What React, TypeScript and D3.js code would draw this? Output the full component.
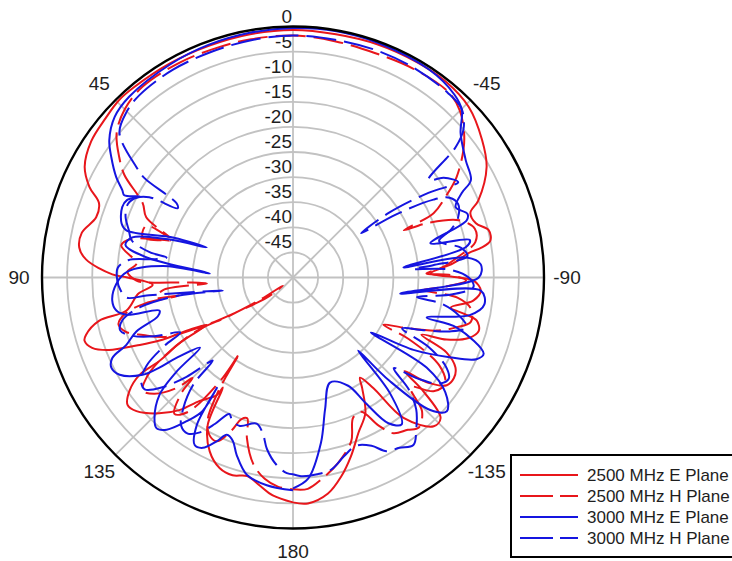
import React from "react";
import * as d3 from "d3";

const ringLevels = [-45, -40, -35, -30, -25, -20, -15, -10, -5];
const ringLabels = ["0", "-5", "-10", "-15", "-20", "-25", "-30", "-35", "-40", "-45"];
const ringLabelValues = [0, -5, -10, -15, -20, -25, -30, -35, -40, -45];
const spokeAngles = [0, 45, 90, 135, 180, 225, 270, 315];
const angleLabels = [
  { a: 45, t: "45" }, { a: 90, t: "90" }, { a: 135, t: "135" },
  { a: 180, t: "180" }, { a: -135, t: "-135" }, { a: -90, t: "-90" }, { a: -45, t: "-45" },
];

// [angle (deg, CCW from top), gain (dB)]
const e2500: [number, number][] = [
  [-180,-5.2],[-176.2,-4.9],[-170.8,-6.4],[-166.4,-9.2],[-162,-12.6],[-157.2,-16.4],[-151.9,-19.4],[-148,-24],[-146.2,-26],[-144,-22.8],[-141.8,-14.4],[-136.6,-9.2],[-133.6,-9.4],[-131,-16],[-130,-21],[-128,-16],[-125,-12.6],[-122,-12.2],[-119,-13],[-116,-16],[-114,-22],[-112,-17],[-109,-13],[-106,-11.5],[-103.2,-12.4],[-102,-15],[-100.8,-18],[-97.3,-13.8],[-94,-12.5],[-91,-14],[-90,-17],[-88.3,-22.6],[-85,-18],[-82,-14.6],[-81,-12],[-79.4,-10],[-76.4,-9.9],[-73.5,-12],[-70,-12.4],[-67.4,-10],[-60.3,-5.6],[-53.9,-3.4],[-45.8,-1.2],[-38,-0.5],[-30,-0.5],[-20,-0.6],[-10,-0.8],[0,-0.7],[10,-0.8],[20,-0.9],[30,-0.8],[40,-0.6],[44.4,-0.5],[49.6,-1],[56,-1.5],[62,-3],[66,-5.6],[69,-8.6],[73,-9],[78,-7],[82,-7],[85,-8.6],[89,-14],[90,-17],[93,-22],[96,-19],[101.2,-16.2],[102.6,-10.4],[105.5,-7.2],[106.9,-6.6],[109.3,-7.6],[111.5,-10.6],[113.5,-16],[115.3,-20.6],[116.6,-26.3],[118.7,-30.4],[120,-24],[122,-18.6],[122.4,-13.8],[124.7,-10.4],[127.6,-8.4],[130.5,-9],[135.4,-12],[139.4,-15.2],[142.9,-19.2],[147,-22],[147.5,-24],[150,-16],[154.4,-11.6],[159,-9.3],[163,-8.8],[167,-9.4],[171,-8],[174.7,-6.4],[180,-5.2],
];

const h2500: [number, number][] = [
  [-180,-7.8],[-176,-7.8],[-172,-9.4],[-166.3,-12],[-160.4,-15.4],[-156.8,-19.6],[-153,-20],[-150,-16],[-147.2,-13.1],[-143,-12],[-140,-11],[-136,-13],[-133,-18],[-129,-14],[-125,-13],[-121,-16],[-118,-24],[-117.6,-29.7],[-114.4,-25.8],[-110.3,-19.5],[-107,-16],[-104,-13.5],[-100,-14],[-97,-17],[-95.5,-24],[-93.9,-20.6],[-91,-15.5],[-89,-19],[-88.3,-23.4],[-86,-20],[-83,-17],[-79,-13],[-75,-12.5],[-71,-15],[-68,-21],[-66.9,-26],[-65.4,-19.2],[-62,-15.5],[-58.5,-11.8],[-53.2,-7.6],[-50,-5.5],[-45,-3],[-40,-1.8],[-30,-2],[-20,-2.4],[-10,-2.2],[0,-1.8],[10,-1.8],[17.6,-1.8],[27.8,-1.6],[38.3,-1.6],[45,-2.6],[50.7,-4.6],[55.3,-7.9],[58.7,-10.7],[63.7,-16.6],[67.7,-18.4],[72,-24.2],[70.5,-19],[75,-19],[73.3,-24.4],[76.5,-17],[79.4,-15.2],[84.9,-18.7],[88,-17],[91.1,-18.8],[92,-21.4],[92.7,-28.8],[94,-32.8],[95.5,-24],[98.4,-22.5],[99,-27],[100,-20],[102,-16],[105,-14],[108,-15],[111,-18],[115,-22],[118.7,-30.4],[121.9,-37.5],[127.6,-43.4],[128.7,-47.4],[124,-42],[121,-35],[119,-28],[122,-18.6],[124.4,-14.6],[127,-12.5],[130,-14],[133.5,-18],[135,-21.7],[136,-18],[139,-14],[142,-16],[145,-25.6],[144.8,-31.6],[146,-26],[147,-22],[149,-17],[152,-14.5],[155,-14],[158,-17],[160,-20],[162,-20.5],[164,-16.7],[168,-12],[172,-9.5],[176,-8.2],[180,-7.8],
];

const e3000: [number, number][] = [
  [-180,-8],[-175.7,-9.8],[-170.4,-16.6],[-166.3,-23],[-160.6,-27.8],[-153,-25.8],[-150,-21.2],[-146.8,-15.3],[-143.5,-13.6],[-140,-20],[-138.3,-30.5],[-137,-22],[-134,-12],[-131,-9.4],[-127,-12],[-124,-17.9],[-125.2,-31],[-121,-22],[-117,-15],[-114,-10],[-111.8,-9.1],[-107,-15.9],[-106.7,-22.2],[-102,-14],[-98,-11.5],[-94,-12.5],[-98.5,-28.4],[-90,-13],[-86,-12.5],[-83.4,-15.2],[-84.8,-27.9],[-80,-15],[-78,-14],[-76,-21.8],[-71.8,-13.6],[-70,-13],[-66.6,-14.7],[-63.4,-12.4],[-61.3,-9.6],[-55.8,-8.4],[-49.2,-5.9],[-45.2,-2.6],[-41.4,-1.4],[-33.3,-0.5],[-20,-0.3],[-10,-0.2],[0,-0.3],[10,-0.5],[20,-0.7],[30,-1.0],[42.2,-1.4],[48,-2.2],[53.2,-4.3],[56.5,-6.6],[60.4,-9.5],[62.9,-11.8],[64,-12.6],[62.1,-15.5],[65,-13.5],[67.6,-13.2],[72.5,-14.2],[74.2,-15.5],[71.5,-25],[70.8,-31.8],[73,-24],[76,-17],[79,-16],[82.2,-20.6],[87.2,-33.4],[85,-24],[88,-17],[92,-14.8],[97.3,-13.7],[100.6,-14.2],[102.6,-16],[103.9,-22.6],[106,-22],[109,-17],[112,-14.2],[114,-10.6],[116.4,-9.6],[119.3,-10.4],[122.9,-14.3],[124,-17.9],[124.6,-21.8],[127,-26.8],[129,-20],[131.3,-14.6],[135.4,-10.7],[137.8,-9.5],[140.3,-10.6],[143.5,-14.4],[145.9,-17.9],[145.4,-23.3],[146.9,-14.9],[149.6,-11.3],[152.1,-11.6],[155,-14],[157.2,-16],[159.8,-15.3],[162.4,-12.9],[166.9,-9.6],[172.8,-8.3],[180,-7.6],
];

const h3000: [number, number][] = [
  [-180,-10.8],[-177.7,-10.4],[-173,-10.5],[-168.7,-11],[-164,-13],[-159.4,-14.2],[-155,-13],[-151.7,-10.7],[-148,-10],[-144.3,-8.9],[-141,-11],[-137,-14],[-134,-18],[-132,-23],[-129,-18],[-126,-14],[-123,-13],[-120,-15],[-117,-20],[-115,-26],[-112,-22],[-109,-17],[-106,-14],[-103,-16],[-100,-20],[-99,-25],[-96,-18],[-93,-14],[-90,-15],[-87,-19],[-86,-26],[-85,-22],[-83,-15],[-80,-16],[-76,-20],[-73,-17],[-70,-15],[-66,-14],[-63,-15],[-61,-18],[-58.5,-26],[-57,-33.8],[-56,-27],[-58,-18.2],[-60,-12],[-56.5,-14],[-54.3,-16.8],[-51.3,-8.5],[-49,-5],[-45,-2.5],[-40,-2],[-30,-1.8],[-20,-1.8],[-10,-1.9],[0,-1.8],[10,-2],[20,-2.2],[30,-2.2],[40,-2.5],[45,-3.2],[50.2,-5],[54.8,-11.8],[56.2,-14.4],[57.5,-22.5],[59,-23.2],[60.8,-17.2],[63,-15],[66,-14],[70,-14.5],[74,-16],[77,-17],[80,-21],[81,-24.5],[82.5,-22],[84,-17],[87,-15],[91,-15],[94,-15.5],[96.9,-16.6],[97,-20.6],[97.6,-25.8],[100.5,-35.8],[99,-27],[101,-19],[104,-15],[107,-14],[110,-16],[113,-20],[116,-25],[118,-21],[121,-16],[124,-13.5],[127,-13],[130,-16],[133,-21],[136,-27],[137,-21],[140,-16],[143,-13],[146,-12.5],[149,-14],[152,-17],[155,-20],[157,-19],[160.3,-18.6],[166,-20],[169,-18.4],[171.4,-15.4],[175,-12.5],[178.2,-11],[180,-10.8],
];

const seriesNames = ["2500 MHz E Plane", "2500 MHz H Plane", "3000 MHz E Plane", "3000 MHz H Plane"];
const seriesData = [e2500, h2500, e3000, h3000];
const seriesColors = ["#e8161b", "#e8161b", "#1515e0", "#1515e0"];
const seriesDashed = [false, true, false, true];

const W = 732, H = 561;
const cx = 293, cy = 277.5, R = 251;
const FONT = "'Liberation Sans', Arial, sans-serif";

export default function App() {
  const r = d3.scaleLinear().domain([-50, 0]).range([0, R]);
  const toRad = (deg: number) => (-deg * Math.PI) / 180;
  const line = d3
    .lineRadial<[number, number]>()
    .angle((d) => toRad(d[0]))
    .radius((d) => r(Math.max(-50, d[1])))
    .curve(d3.curveCatmullRom.alpha(0.5));

  return (
    <svg width={W} height={H} style={{ position: "absolute", left: 0, top: 0, background: "#fff" }}>
      <rect x={0} y={0} width={W} height={H} fill="#fff" />
      <g transform={`translate(${cx},${cy})`}>
        {ringLevels.map((v) => (
          <circle key={v} r={r(v)} fill="none" stroke="#c2c2c2" strokeWidth={1.8} />
        ))}
        {spokeAngles.map((a) => {
          const t = toRad(a);
          return (
            <line key={a} x1={0} y1={0} x2={R * Math.sin(t)} y2={-R * Math.cos(t)} stroke="#c2c2c2" strokeWidth={1.8} />
          );
        })}
        {ringLabelValues.map((v, i) => (
          <text key={v} x={-1} y={-r(v) - 4} textAnchor="end" fontFamily={FONT} fontSize={19} fill="#1e1e1e">
            {ringLabels[i]}
          </text>
        ))}
        {seriesData.map((d, i) => (
          <path
            key={i}
            d={line(d) || ""}
            fill="none"
            stroke={seriesColors[i]}
            strokeWidth={2}
            strokeDasharray={seriesDashed[i] ? "30 8" : undefined}
            strokeLinejoin="round"
          />
        ))}
        <circle r={R} fill="none" stroke="#000" strokeWidth={2.4} />
        {angleLabels.map((l) => {
          const t = toRad(l.a);
          const rr = 274;
          return (
            <text key={l.a} x={rr * Math.sin(t)} y={-rr * Math.cos(t)} textAnchor="middle" dominantBaseline="central" fontFamily={FONT} fontSize={19} fill="#1e1e1e">
              {l.t}
            </text>
          );
        })}
      </g>
      <g>
        <rect x={511} y={455} width={240} height={102} fill="#fff" stroke="#000" strokeWidth={2} />
        {seriesNames.map((n, i) => {
          const y = 475 + i * 21;
          return (
            <g key={n}>
              <line x1={520} x2={578} y1={y} y2={y} stroke={seriesColors[i]} strokeWidth={2} strokeDasharray={seriesDashed[i] ? "33 7" : undefined} />
              <text x={587} y={y + 6} fontFamily={FONT} fontSize={17} fill="#1e1e1e">{n}</text>
            </g>
          );
        })}
      </g>
    </svg>
  );
}
